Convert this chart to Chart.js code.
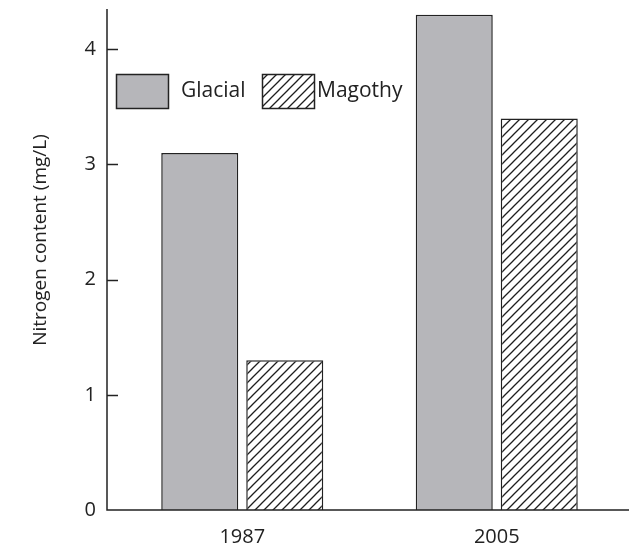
<!DOCTYPE html>
<html>
<head>
<meta charset="utf-8">
<title>Nitrogen content</title>
<script src="https://cdn.jsdelivr.net/npm/chart.js@4.4.1/dist/chart.umd.min.js"></script>
<style>
    html, body { margin: 0; padding: 0; background: #fff; }
    #wrap { width: 629px; height: 548px; }
</style>
</head>
<body>
<div id="wrap"><canvas id="nitrogenChart" width="629" height="548"></canvas></div>
<script>
// Chart data
const categories = ['1987', '2005'];
const seriesLabels = ['Glacial', 'Magothy'];
const glacialValues = [3.1, 4.3];
const magothyValues = [1.3, 3.4];
const yTicks = [0, 1, 2, 3, 4];
const yTitle = 'Nitrogen content (mg/L)';

const FONT = '"Open Sans", "DejaVu Sans", sans-serif';
const INK = '#222222';

// Diagonal hatch for the Magothy bars
function makeHatch() {
    const size = 9;
    const tile = document.createElement('canvas');
    tile.width = size;
    tile.height = size;
    const c = tile.getContext('2d');
    c.fillStyle = '#ffffff';
    c.fillRect(0, 0, size, size);
    c.strokeStyle = '#1e1e1e';
    c.lineWidth = 1.3;
    c.beginPath();
    c.moveTo(0, size); c.lineTo(size, 0);
    c.moveTo(-2, 2); c.lineTo(2, -2);
    c.moveTo(size - 2, size + 2); c.lineTo(size + 2, size - 2);
    c.stroke();
    return c.createPattern(tile, 'repeat');
}

const hatch = makeHatch();

// Axis lines, inward ticks, y title and legend drawn by hand
const framePlugin = {
    id: 'frame',
    afterDraw(chart) {
        const ctx = chart.ctx;
        const y = chart.scales.y;
        const axisX = 107;
        const baseY = y.getPixelForValue(0);

        ctx.save();
        ctx.strokeStyle = INK;
        ctx.lineWidth = 1.5;

        ctx.beginPath();
        ctx.moveTo(axisX, y.top);
        ctx.lineTo(axisX, baseY);
        ctx.lineTo(chart.width, baseY);
        ctx.stroke();

        yTicks.forEach(v => {
            if (v === 0) return;
            const py = Math.round(y.getPixelForValue(v)) + 0.5;
            ctx.beginPath();
            ctx.moveTo(axisX, py);
            ctx.lineTo(axisX + 11, py);
            ctx.stroke();
        });

        // y title
        ctx.fillStyle = INK;
        ctx.font = '19px ' + FONT;
        ctx.textAlign = 'center';
        ctx.textBaseline = 'middle';
        ctx.translate(41, 240);
        ctx.rotate(-Math.PI / 2);
        ctx.fillText(yTitle, 0, 0);
        ctx.restore();

        // legend
        ctx.save();
        const boxes = [
            { x: 116.5, textX: 181 },
            { x: 262.5, textX: 317 }
        ];
        chart.data.datasets.forEach((ds, i) => {
            const b = boxes[i];
            ctx.fillStyle = ds.backgroundColor;
            ctx.fillRect(b.x, 74.5, 52, 34);
            ctx.strokeStyle = INK;
            ctx.lineWidth = 1.5;
            ctx.strokeRect(b.x, 74.5, 52, 34);
            ctx.fillStyle = INK;
            ctx.font = '21px ' + FONT;
            ctx.textAlign = 'left';
            ctx.textBaseline = 'middle';
            ctx.fillText(ds.label, b.textX, 91);
        });
        ctx.restore();
    }
};

new Chart(document.getElementById('nitrogenChart'), {
    type: 'bar',
    data: {
        labels: categories,
        datasets: [
            {
                label: seriesLabels[0],
                data: glacialValues,
                backgroundColor: '#b6b6ba',
                borderColor: INK,
                borderWidth: 1.5
            },
            {
                label: seriesLabels[1],
                data: magothyValues,
                backgroundColor: hatch,
                borderColor: INK,
                borderWidth: 1.5
            }
        ]
    },
    options: {
        responsive: false,
        animation: false,
        devicePixelRatio: 1,
        layout: {
            padding: { top: 9, right: 5, left: 0, bottom: 0 }
        },
        datasets: {
            bar: {
                categoryPercentage: 0.668,
                barPercentage: 0.906
            }
        },
        plugins: {
            legend: { display: false },
            tooltip: { enabled: false }
        },
        scales: {
            x: {
                grid: { display: false, drawTicks: false },
                border: { display: false },
                ticks: {
                    color: INK,
                    font: { family: FONT, size: 20 },
                    padding: 15
                },
                afterFit(scale) {
                    scale.height = 38;
                    scale.paddingLeft = 0;
                    scale.paddingRight = 0;
                }
            },
            y: {
                min: 0,
                max: 4.35,
                grid: { display: false, drawTicks: false },
                border: { display: false },
                afterBuildTicks(scale) {
                    scale.ticks = yTicks.map(v => ({ value: v }));
                },
                ticks: {
                    color: INK,
                    font: { family: FONT, size: 20 },
                    padding: 19
                },
                afterFit(scale) {
                    scale.width = 115;
                    scale.paddingTop = 0;
                    scale.paddingBottom = 0;
                }
            }
        }
    },
    plugins: [framePlugin]
});
</script>
</body>
</html>
